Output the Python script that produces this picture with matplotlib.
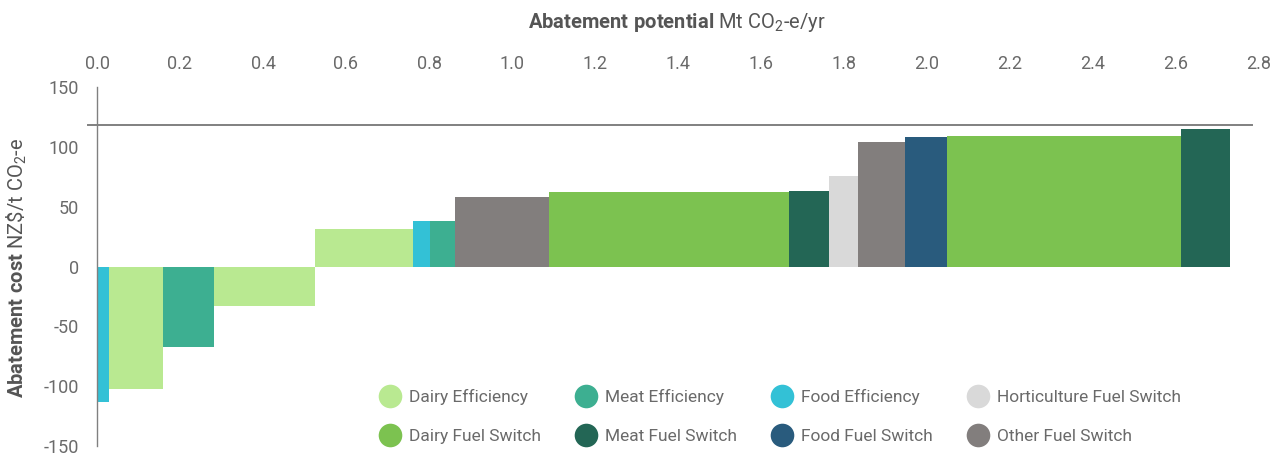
import matplotlib
matplotlib.use("Agg")
import matplotlib.pyplot as plt
from matplotlib.lines import Line2D
import numpy as np

# ---- data ----
categories = ["Food Efficiency", "Dairy Efficiency", "Meat Efficiency", "Dairy Efficiency",
              "Dairy Efficiency", "Food Efficiency", "Meat Efficiency", "Other Fuel Switch",
              "Dairy Fuel Switch", "Meat Fuel Switch", "Horticulture Fuel Switch",
              "Other Fuel Switch", "Food Fuel Switch", "Dairy Fuel Switch", "Meat Fuel Switch"]
potential = [0.029, 0.130, 0.123, 0.243, 0.236, 0.041, 0.061, 0.226,
             0.578, 0.097, 0.070, 0.113, 0.101, 0.564, 0.118]
cost = [-113, -102, -67, -33, 31, 38, 38, 58, 62, 63, 76, 104, 108, 109, 115]
reference_cost = 118
x_ticks = [0.0, 0.2, 0.4, 0.6, 0.8, 1.0, 1.2, 1.4, 1.6, 1.8, 2.0, 2.2, 2.4, 2.6, 2.8]
y_ticks = [-150, -100, -50, 0, 50, 100, 150]
legend_order = ["Dairy Efficiency", "Dairy Fuel Switch", "Meat Efficiency", "Meat Fuel Switch",
                "Food Efficiency", "Food Fuel Switch", "Horticulture Fuel Switch", "Other Fuel Switch"]

colors = {
    "Dairy Efficiency": "#b9e991",
    "Meat Efficiency": "#3daf91",
    "Food Efficiency": "#33c1d6",
    "Horticulture Fuel Switch": "#d9d9d9",
    "Dairy Fuel Switch": "#7cc250",
    "Meat Fuel Switch": "#236655",
    "Food Fuel Switch": "#295b7d",
    "Other Fuel Switch": "#827e7d",
}

plt.rcParams['font.family'] = ['Roboto', 'DejaVu Sans']
plt.rcParams['axes.unicode_minus'] = False
plt.rcParams['mathtext.fontset'] = 'custom'
plt.rcParams['mathtext.rm'] = 'Roboto'
plt.rcParams['mathtext.it'] = 'Roboto:italic'
plt.rcParams['mathtext.bf'] = 'Roboto:bold'

text_color = "#555555"
tick_color = "#6a6a6a"
fig = plt.figure(figsize=(12.84, 4.58), dpi=100)
ax = fig.add_axes([97/1284, 12/458, 1162/1284, 359/458])

lefts = np.concatenate([[0], np.cumsum(potential)[:-1]])
ax.bar(lefts, cost, width=potential, align='edge',
       color=[colors[c] for c in categories], linewidth=0)

ax.plot([-0.022, 2.783], [reference_cost, reference_cost], color="#808080",
        lw=1.4, clip_on=False, zorder=3)

ax.set_xlim(0, 2.8)
ax.set_ylim(-150, 150)
ax.set_xticks(x_ticks)
ax.set_xticklabels([f"{v:.1f}" for v in x_ticks])
ax.set_yticks(y_ticks)
ax.xaxis.tick_top()
ax.tick_params(axis='x', length=0, pad=10, labelsize=13, labelcolor=tick_color)
ax.tick_params(axis='y', length=0, pad=13, labelsize=13, labelcolor=tick_color)
for s in ["top", "right", "bottom"]:
    ax.spines[s].set_visible(False)
ax.spines["left"].set_color("#808080")
ax.spines["left"].set_linewidth(1.0)

fig.text(677/1284, 1 - 22/458, r"$\mathbf{Abatement\ potential}$ Mt CO$_2$-e/yr",
         ha='center', va='center', fontsize=14.5, color=text_color)
fig.text(17/1284, 1 - 268/458, r"$\mathbf{Abatement\ cost}$ NZ\$/t CO$_2$-e",
         ha='center', va='center', rotation=90, fontsize=14.5, color=text_color)

handles = [Line2D([], [], marker='o', linestyle='none', markersize=17,
                  markerfacecolor=colors[n], markeredgewidth=0, label=n)
           for n in legend_order]
leg = ax.legend(handles=handles, ncol=4, frameon=False, loc='upper left',
                bbox_to_anchor=(381/1284, 1 - 389/458), bbox_transform=fig.transFigure,
                fontsize=12.5, handlelength=1.0, handletextpad=0.6,
                columnspacing=2.1, labelspacing=1.4, borderpad=0, borderaxespad=0)
for t in leg.get_texts():
    t.set_color(tick_color)

fig.savefig("out.png", dpi=100)
